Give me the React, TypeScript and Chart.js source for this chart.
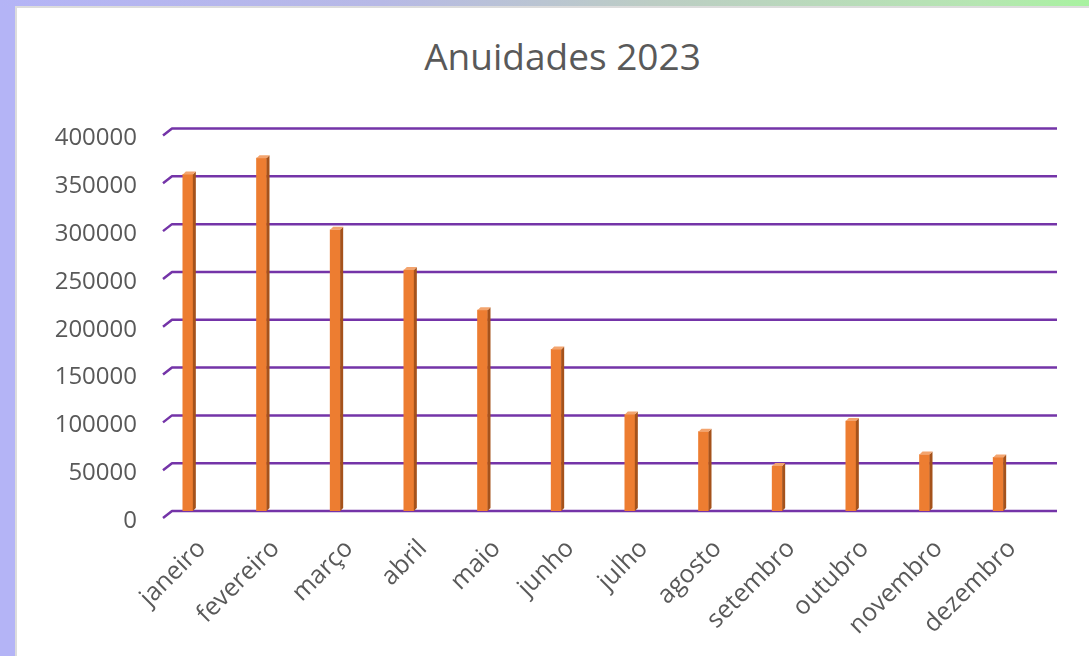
import React, { useEffect, useRef } from "react";
import { Chart, registerables } from "chart.js";

Chart.register(...registerables);

const categories = ["janeiro", "fevereiro", "março", "abril", "maio", "junho", "julho", "agosto", "setembro", "outubro", "novembro", "dezembro"];
const anuidades = [352000, 369000, 294000, 252000, 210000, 169000, 101000, 83000, 47000, 94000, 59000, 56000];
const titleText = "Anuidades 2023";
const yMin = 0;
const yMax = 400000;
const yStep = 50000;

const grid3dPlugin = {
  id: "grid3d",
  beforeDatasetsDraw(chart: any) {
    const { ctx, chartArea, scales } = chart;
    const ys = scales.y;
    ctx.save();
    ctx.strokeStyle = "#7434A8";
    ctx.lineWidth = 2.5;
    ctx.lineJoin = "round";
    ys.ticks.forEach((t: any) => {
      const py = ys.getPixelForValue(t.value);
      ctx.beginPath();
      ctx.moveTo(chartArea.left + 12, py + 7);
      ctx.lineTo(chartArea.left + 21, py);
      ctx.lineTo(chartArea.right + 22, py);
      ctx.stroke();
    });
    ctx.restore();
  },
};

const bar3dPlugin = {
  id: "bar3d",
  afterDatasetsDraw(chart: any) {
    const { ctx } = chart;
    const meta = chart.getDatasetMeta(0);
    const d = 3;
    ctx.save();
    meta.data.forEach((bar: any) => {
      const { x, y, base, width } = bar.getProps(["x", "y", "base", "width"], true);
      const l = x - width / 2;
      const r = x + width / 2;
      ctx.fillStyle = "#A5521B";
      ctx.beginPath();
      ctx.moveTo(r, y);
      ctx.lineTo(r + d, y - d);
      ctx.lineTo(r + d, base - d);
      ctx.lineTo(r, base);
      ctx.closePath();
      ctx.fill();
      ctx.fillStyle = "#F3A46E";
      ctx.beginPath();
      ctx.moveTo(l, y);
      ctx.lineTo(l + d, y - d);
      ctx.lineTo(r + d, y - d);
      ctx.lineTo(r, y);
      ctx.closePath();
      ctx.fill();
    });
    ctx.restore();
  },
};

export default function App() {
  const canvasRef = useRef<HTMLCanvasElement | null>(null);

  useEffect(() => {
    if (!canvasRef.current) return;
    const chart = new Chart(canvasRef.current, {
      type: "bar",
      data: {
        labels: categories,
        datasets: [
          {
            label: titleText,
            data: anuidades,
            backgroundColor: "#ED7D31",
            borderWidth: 0,
            barThickness: 10,
          },
        ],
      },
      options: {
        responsive: false,
        animation: false,
        layout: { padding: { left: 0, right: 54, top: 128.5, bottom: 0 } },
        plugins: {
          legend: { display: false },
          tooltip: { enabled: false },
          title: { display: false },
        },
        scales: {
          x: {
            grid: { display: false, drawTicks: false },
            border: { display: false },
            ticks: {
              color: "#595959",
              font: { family: "'Open Sans', sans-serif", size: 25 },
              minRotation: 45,
              maxRotation: 45,
              labelOffset: 14,
              padding: 23,
              autoSkip: false,
            },
            afterFit(scale: any) {
              scale.height = 145;
            },
          },
          y: {
            min: yMin,
            max: yMax,
            grid: { display: false, drawTicks: false },
            border: { display: false },
            ticks: {
              stepSize: yStep,
              color: "#595959",
              font: { family: "'Open Sans', sans-serif", size: 24 },
              padding: 14,
              labelOffset: 10,
              callback: (v: any) => String(v),
            },
            afterFit(scale: any) {
              scale.width = 151;
            },
          },
        },
      },
      plugins: [grid3dPlugin, bar3dPlugin],
    });
    return () => chart.destroy();
  }, []);

  return (
    <div
      style={{
        position: "fixed",
        left: 0,
        top: 0,
        width: 1089,
        height: 656,
        overflow: "hidden",
        background: "linear-gradient(90deg, #b4b4f6 0%, #b7b9e6 35%, #bccdc4 60%, #b6e6b2 90%, #a8f2a0 100%)",
      }}
    >
      <div
        style={{
          position: "absolute",
          left: 0,
          top: 8,
          width: 17,
          height: 648,
          background: "#b4b4f6",
        }}
      />
      <div
        style={{
          position: "absolute",
          left: 15,
          top: 6,
          width: 1074,
          height: 650,
          background: "#ffffff",
          borderTop: "2px solid #dcdcdc",
          borderLeft: "2px solid #dcdcdc",
          boxSizing: "border-box",
        }}
      />
      <div
        style={{
          position: "absolute",
          left: 0,
          top: 34,
          width: 1125,
          textAlign: "center",
          fontFamily: "'Open Sans', sans-serif",
          fontSize: 37,
          lineHeight: "44px",
          color: "#595959",
          whiteSpace: "nowrap",
        }}
      >
        {titleText}
      </div>
      <canvas
        ref={canvasRef}
        width={1089}
        height={656}
        style={{ position: "absolute", left: 0, top: 0, width: 1089, height: 656 }}
      />
    </div>
  );
}
